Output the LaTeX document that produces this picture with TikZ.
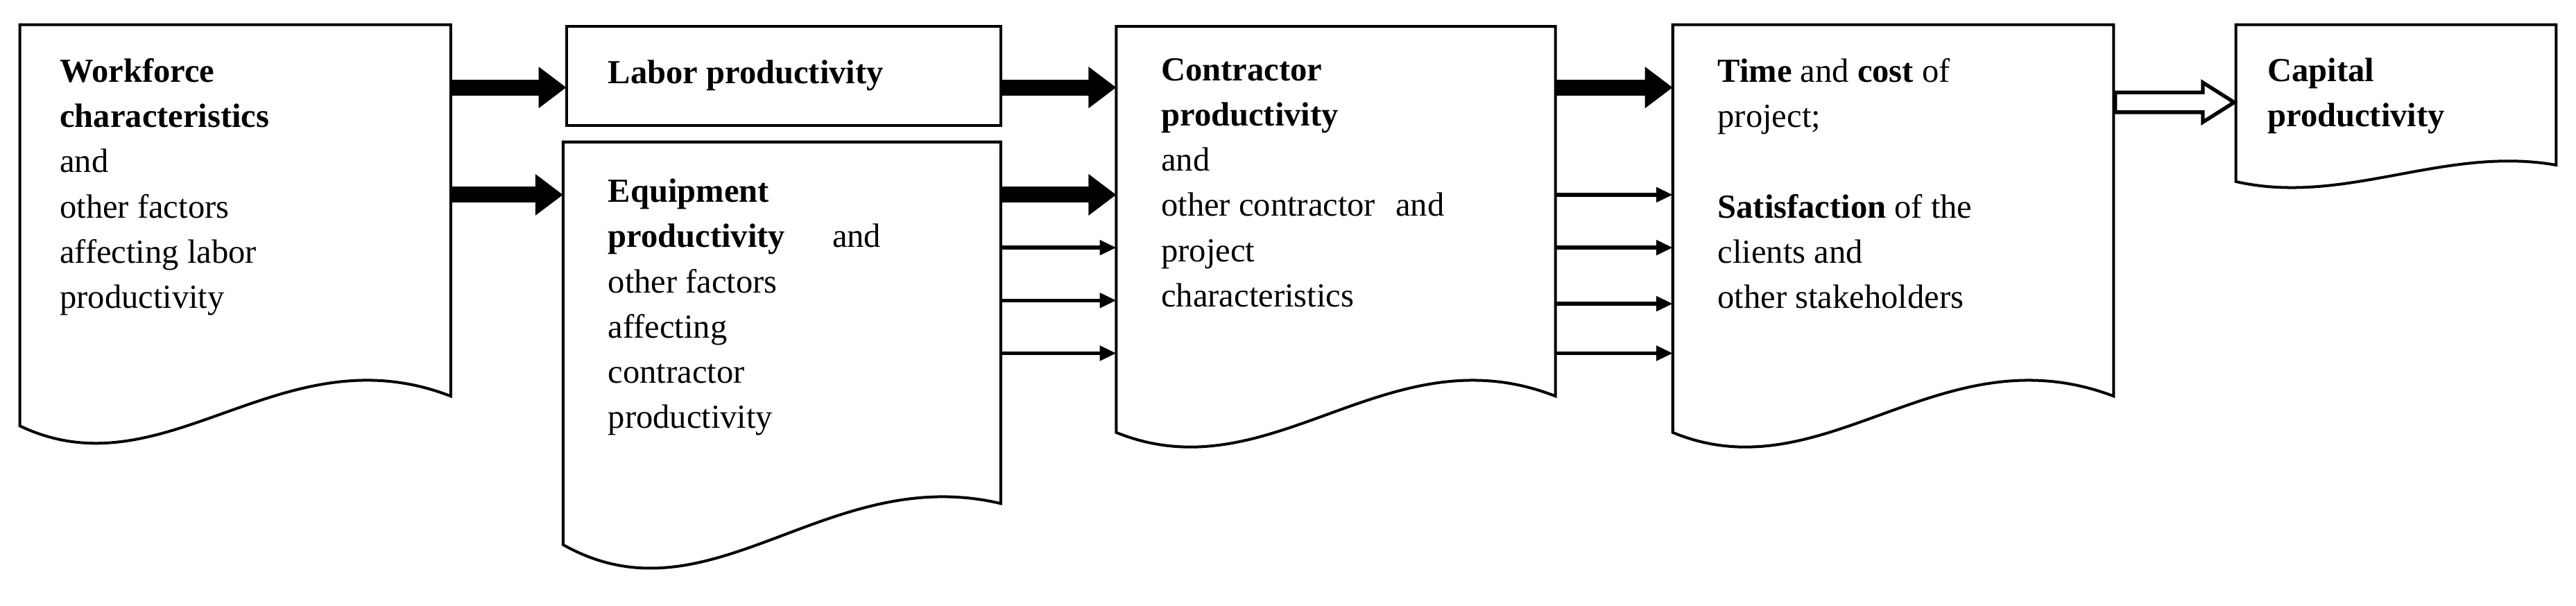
\documentclass[tikz,border=0pt]{standalone}
\usepackage{fontspec}
\setmainfont{Liberation Serif}
\usetikzlibrary{arrows.meta}
\begin{document}
\begin{tikzpicture}[x=0.025cm,y=-0.025cm,
  box/.style={line width=1.2pt,fill=white},
  txt/.style={anchor=north west,align=left,inner sep=0pt,font=\fontsize{14.5}{19.5}\selectfont},
  thick arr/.style={line width=0.24cm,-{Triangle[length=0.42cm,width=0.6cm]}},
  thin arr/.style={line width=1.6pt,-{Triangle[length=0.25cm,width=0.22cm]}}]
\useasboundingbox (0,0) rectangle (1560,367);
% documents
\draw[box] (12,15) -- (273,15) -- (273,240) .. controls (170,200) and (100,300) .. (12,258) -- cycle;
\draw[box] (343,16) rectangle (606,76);
\draw[box] (341,86) -- (606,86) -- (606,305) .. controls (500,280) and (430,380) .. (341,330) -- cycle;
\draw[box] (676,16) -- (942,16) -- (942,240) .. controls (840,200) and (770,300) .. (676,262) -- cycle;
\draw[box] (1013,15) -- (1280,15) -- (1280,240) .. controls (1175,200) and (1105,300) .. (1013,262) -- cycle;
\draw[box] (1354,15) -- (1548,15) -- (1548,100) .. controls (1480,88) and (1420,125) .. (1354,110) -- cycle;
% texts
\node[txt] (t1) at (36,35) {\textbf{Workforce}\\\textbf{characteristics}\\and\\other factors\\affecting labor\\productivity};
\node[txt] (t2) at (368,36) {\textbf{Labor productivity}};
\node[txt] (t3) at (368,108) {\textbf{Equipment}\\\textbf{productivity}\hspace{1.4em}and\\other factors\\affecting\\contractor\\productivity};
\node[txt] (t4) at (703,35) {\textbf{Contractor}\\\textbf{productivity}\\and\\other contractor\hspace{0.6em}and\\project\\characteristics};
\node[txt] (t5) at (1040,35) {\textbf{Time} and \textbf{cost} of\\project;\\[19.5pt]\textbf{Satisfaction} of the\\clients and\\other stakeholders};
\node[txt] (t6) at (1373,35) {\textbf{Capital}\\\textbf{productivity}};
% connectors
\coordinate (a1) at (273,53); \coordinate (b1) at (343,53);
\coordinate (a2) at (273,118); \coordinate (b2) at (341,118);
\coordinate (a3) at (606,53); \coordinate (b3) at (676,53);
\coordinate (a4) at (606,118); \coordinate (b4) at (676,118);
\coordinate (a5) at (942,53); \coordinate (b5) at (1013,53);
\foreach \i in {1,...,5} \draw[thick arr] (a\i) -- (b\i);
\foreach \y in {150,182,214} {\coordinate (p) at (606,\y); \coordinate (q) at (676,\y); \draw[thin arr] (p) -- (q);}
\foreach \y in {118,150,184,214} {\coordinate (p) at (942,\y); \coordinate (q) at (1013,\y); \draw[thin arr] (p) -- (q);}
% hollow arrow
\draw[line width=1.6pt,fill=white] (1281,56) -- (1334,56) -- (1334,50) -- (1353,62) -- (1334,74) -- (1334,68) -- (1281,68) -- cycle;
\end{tikzpicture}
\end{document}
